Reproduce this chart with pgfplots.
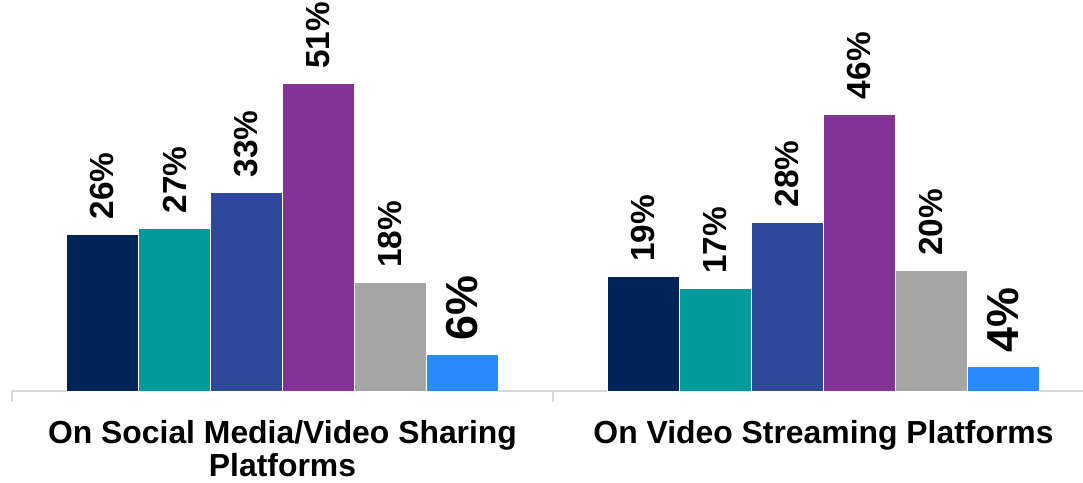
\documentclass[border=0pt]{standalone}
\usepackage{fontspec}
\setmainfont{Liberation Sans}
\usepackage{pgfplots}
\pgfplotsset{compat=1.18}
\definecolor{cNavy}{HTML}{002456}
\definecolor{cTeal}{HTML}{009B9A}
\definecolor{cBlue}{HTML}{30489A}
\definecolor{cPurple}{HTML}{833395}
\definecolor{cGray}{HTML}{A6A6A6}
\definecolor{cBright}{HTML}{2B8AFF}
\definecolor{cAxis}{HTML}{D9D9D9}
\begin{document}
\begin{tikzpicture}
\useasboundingbox (0,0) rectangle (1083bp,483bp);
\begin{axis}[
  at={(12bp,92bp)}, anchor=south west,
  scale only axis,
  width=1082bp, height=361.2bp,
  xmin=0, xmax=2, ymin=0, ymax=60,
  enlargelimits=false,
  clip=false,
  ybar=0pt, bar width=72bp,
  axis x line=bottom, axis y line=none,
  x axis line style={draw=cAxis, line width=2bp, -},
  xtick={0.5,1.5},
  xticklabels={On Social Media/Video Sharing\\Platforms, On Video Streaming Platforms},
  major tick length=0pt,
  minor xtick={0,1,2},
  minor tick length=11bp,
  tick align=outside,
  minor tick style={draw=cAxis, line width=1.5bp},
  x tick label style={font=\fontsize{32}{33}\selectfont\bfseries, align=center, inner sep=0pt, yshift=-29bp},
  ytick=\empty,
  /pgf/number format/assume math mode=true,
  nodes near coords={\pgfmathprintnumber{\pgfplotspointmeta}\%},
  every node near coord/.append style={rotate=90, anchor=west, inner xsep=14.5bp, inner ysep=0pt, font=\fontsize{33.5}{40}\selectfont\bfseries, text=black},
  every axis plot/.append style={draw=white, line width=1bp},
]
\addplot[fill=cNavy] coordinates {(0.5,26) (1.5,19)};
\addplot[fill=cTeal] coordinates {(0.5,27) (1.5,17)};
\addplot[fill=cBlue] coordinates {(0.5,33) (1.5,28)};
\addplot[fill=cPurple] coordinates {(0.5,51) (1.5,46)};
\addplot[fill=cGray] coordinates {(0.5,18) (1.5,20)};
\addplot[fill=cBright, every node near coord/.append style={font=\fontsize{45}{52}\selectfont\bfseries, inner xsep=14bp}] coordinates {(0.5,6) (1.5,4)};
\end{axis}
\end{tikzpicture}
\end{document}
